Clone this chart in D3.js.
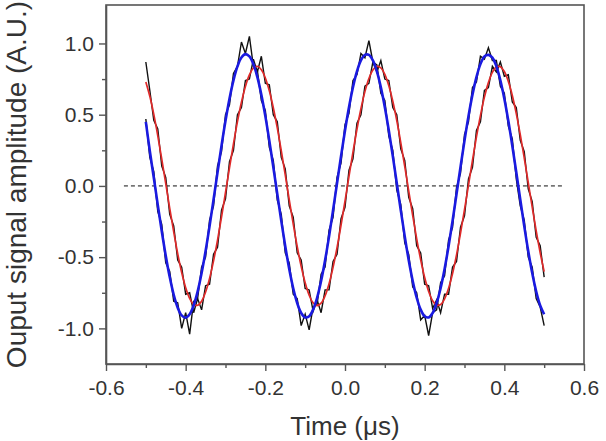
<!DOCTYPE html>
<html>
<head>
<meta charset="utf-8">
<script src="https://cdn.jsdelivr.net/npm/d3@7"></script>
<style>
  body { margin: 0; background: #fff; }
  text { font-family: "Liberation Sans", Arial, sans-serif; fill: #333; }
</style>
</head>
<body>
<svg id="chart"></svg>
<script>
// sampled every 0.01 us from -0.5 to 0.5
var t0 = -0.5, dt = 0.01;

// measured signal, delayed channel (black, under red)
var measuredRed = [0.87, 0.67, 0.46, 0.40, 0.14, 0.06, -0.20, -0.28, -0.52, -0.57,
  -0.76, -0.75, -0.89, -0.79, -0.87, -0.70, -0.69, -0.48, -0.43, -0.17,
  -0.09, 0.17, 0.25, 0.50, 0.55, 0.74, 0.75, 0.89, 0.80, 0.91,
  0.72, 0.71, 0.50, 0.45, 0.20, 0.12, -0.14, -0.22, -0.47, -0.52,
  -0.72, -0.73, -0.88, -0.80, -0.89, -0.73, -0.73, -0.53, -0.48, -0.23,
  -0.15, 0.11, 0.19, 0.44, 0.50, 0.70, 0.72, 0.87, 0.80, 0.88,
  0.75, 0.74, 0.55, 0.50, 0.26, 0.18, -0.08, -0.16, -0.42, -0.47,
  -0.69, -0.70, -0.86, -0.80, -0.89, -0.76, -0.76, -0.57, -0.53, -0.29,
  -0.21, 0.05, 0.13, 0.39, 0.45, 0.67, 0.69, 0.84, 0.80, 0.87,
  0.77, 0.78, 0.59, 0.55, 0.32, 0.24, -0.02, -0.11, -0.36, -0.42, -0.64];

// measured signal, reference channel (black, under blue)
var measuredBlue = [0.47, 0.20, 0.10, -0.18, -0.27, -0.54, -0.60, -0.81, -0.82, -1.00,
  -0.89, -1.04, -0.81, -0.79, -0.57, -0.50, -0.24, -0.14, 0.14, 0.24,
  0.50, 0.57, 0.79, 0.84, 1.01, 0.93, 1.05, 0.84, 0.81, 0.60,
  0.53, 0.27, 0.18, -0.10, -0.20, -0.47, -0.54, -0.76, -0.79, -0.98,
  -0.90, -1.01, -0.85, -0.83, -0.62, -0.57, -0.31, -0.22, 0.06, 0.16,
  0.43, 0.51, 0.74, 0.78, 0.93, 0.90, 1.02, 0.87, 0.85, 0.65,
  0.60, 0.35, 0.25, -0.03, -0.13, -0.40, -0.48, -0.71, -0.75, -0.94,
  -0.91, -1.05, -0.89, -0.87, -0.68, -0.63, -0.38, -0.29, -0.01, 0.09,
  0.36, 0.45, 0.69, 0.73, 0.91, 0.89, 0.97, 0.88, 0.88, 0.70,
  0.65, 0.42, 0.33, 0.05, -0.14, -0.24, -0.50, -0.57, -0.79, -0.85, -0.98];

// sine fits
var fitRed = [0.730, 0.629, 0.502, 0.352, 0.188, 0.016, -0.157, -0.323, -0.476, -0.608,
  -0.714, -0.790, -0.832, -0.838, -0.809, -0.745, -0.649, -0.526, -0.380, -0.218,
  -0.046, 0.127, 0.295, 0.451, 0.587, 0.698, 0.779, 0.827, 0.840, 0.816,
  0.758, 0.668, 0.549, 0.407, 0.247, 0.077, -0.097, -0.266, -0.425, -0.565,
  -0.680, -0.767, -0.821, -0.840, -0.823, -0.771, -0.686, -0.572, -0.433, -0.276,
  -0.107, 0.067, 0.237, 0.398, 0.542, 0.662, 0.754, 0.814, 0.839, 0.829,
  0.783, 0.703, 0.594, 0.459, 0.304, 0.137, -0.036, -0.208, -0.371, -0.518,
  -0.643, -0.740, -0.806, -0.837, -0.833, -0.793, -0.719, -0.615, -0.484, -0.332,
  -0.167, 0.006, 0.179, 0.344, 0.494, 0.623, 0.725, 0.797, 0.835, 0.836,
  0.803, 0.734, 0.635, 0.508, 0.360, 0.196, 0.024, -0.149, -0.316, -0.469, -0.602];

var fitBlue = [0.450, 0.245, 0.057, -0.133, -0.318, -0.490, -0.640, -0.764, -0.855, -0.909,
  -0.925, -0.901, -0.839, -0.742, -0.612, -0.457, -0.282, -0.095, 0.095, 0.282,
  0.457, 0.612, 0.741, 0.839, 0.901, 0.925, 0.909, 0.855, 0.764, 0.640,
  0.490, 0.318, 0.133, -0.057, -0.245, -0.423, -0.583, -0.718, -0.822, -0.892,
  -0.923, -0.915, -0.868, -0.785, -0.668, -0.522, -0.354, -0.171, 0.019, 0.208,
  0.389, 0.553, 0.693, 0.804, 0.881, 0.920, 0.920, 0.881, 0.804, 0.693,
  0.553, 0.389, 0.209, 0.019, -0.171, -0.354, -0.522, -0.667, -0.785, -0.868,
  -0.915, -0.923, -0.892, -0.822, -0.718, -0.583, -0.423, -0.246, -0.057, 0.133,
  0.318, 0.490, 0.640, 0.764, 0.855, 0.909, 0.920, 0.901, 0.839, 0.742,
  0.612, 0.457, 0.282, 0.096, -0.095, -0.282, -0.457, -0.612, -0.741, -0.839, -0.901];

var zeroLineX = [-0.555, 0.55];

var xTicks = [-0.6, -0.4, -0.2, 0.0, 0.2, 0.4, 0.6];
var xMinor = [-0.5, -0.3, -0.1, 0.1, 0.3, 0.5];
var yTicks = [-1.0, -0.5, 0.0, 0.5, 1.0];
var yMinor = [-0.75, -0.25, 0.25, 0.75];

const margin = {top: 5, right: 22, bottom: 77, left: 106};
const W = 606, H = 441;
const width = W - margin.left - margin.right;
const height = H - margin.top - margin.bottom;

var svg = d3.select("#chart")
    .attr("width", W)
    .attr("height", H)
  .append("g")
    .attr("transform", "translate(" + margin.left + "," + margin.top + ")");

var x = d3.scaleLinear().domain([-0.6, 0.6]).range([0, width]);
var y = d3.scaleLinear().domain([-1.25, 1.27]).range([height, 0]);

function toPoints(vals) {
  return vals.map((v, i) => [t0 + i * dt, v]);
}

var line = d3.line().x(d => x(d[0])).y(d => y(d[1]));
var smooth = d3.line().x(d => x(d[0])).y(d => y(d[1])).curve(d3.curveCatmullRom);

// zero reference
svg.append("line")
    .attr("x1", x(zeroLineX[0])).attr("x2", x(zeroLineX[1]))
    .attr("y1", y(0)).attr("y2", y(0))
    .attr("stroke", "#111")
    .attr("stroke-width", 1)
    .attr("stroke-dasharray", "4,3");

// raw data
[measuredRed, measuredBlue].forEach(function(s) {
  svg.append("path")
      .datum(toPoints(s))
      .attr("d", line)
      .attr("fill", "none")
      .attr("stroke", "#111")
      .attr("stroke-width", 1.4);
});

// fits
svg.append("path")
    .datum(toPoints(fitRed))
    .attr("d", smooth)
    .attr("fill", "none")
    .attr("stroke", "#e02a2a")
    .attr("stroke-width", 1.7);

svg.append("path")
    .datum(toPoints(fitBlue))
    .attr("d", smooth)
    .attr("fill", "none")
    .attr("stroke", "#1a1ae0")
    .attr("stroke-width", 2.6);

// frame
svg.append("rect")
    .attr("width", width).attr("height", height)
    .attr("fill", "none")
    .attr("stroke", "#555")
    .attr("stroke-width", 1.6);

var fmt = d => d.toFixed(1);

var xAxis = d3.axisBottom(x).tickValues(xTicks).tickFormat(fmt).tickSize(7).tickSizeOuter(0).tickPadding(9);
var yAxis = d3.axisLeft(y).tickValues(yTicks).tickFormat(fmt).tickSize(7).tickSizeOuter(0).tickPadding(5);

var xG = svg.append("g").attr("transform", "translate(0," + height + ")").call(xAxis);
var yG = svg.append("g").call(yAxis);

svg.append("g").attr("transform", "translate(0," + height + ")")
    .call(d3.axisBottom(x).tickValues(xMinor).tickSize(4).tickFormat(""))
    .select(".domain").remove();
svg.append("g")
    .call(d3.axisLeft(y).tickValues(yMinor).tickSize(4).tickFormat(""))
    .select(".domain").remove();

svg.selectAll(".domain").attr("stroke", "#555").attr("stroke-width", 1.6);
svg.selectAll(".tick line").attr("stroke", "#555").attr("stroke-width", 1.4);
svg.selectAll(".tick text")
    .attr("fill", "#333")
    .style("font-size", "21px")
    .style("font-family", "'Liberation Sans', Arial, sans-serif");
xG.selectAll(".tick text").attr("dy", "0.71em");

// axis titles
svg.append("text")
    .attr("x", width / 2)
    .attr("y", height + 71)
    .attr("text-anchor", "middle")
    .style("font-size", "26px")
    .text("Time (\u03bcs)");

svg.append("text")
    .attr("transform", "translate(" + (26 - margin.left) + "," + (height / 2) + ") rotate(-90)")
    .attr("text-anchor", "middle")
    .style("font-size", "28px")
    .text("Ouput signal amplitude (A.U.)");
</script>
</body>
</html>
